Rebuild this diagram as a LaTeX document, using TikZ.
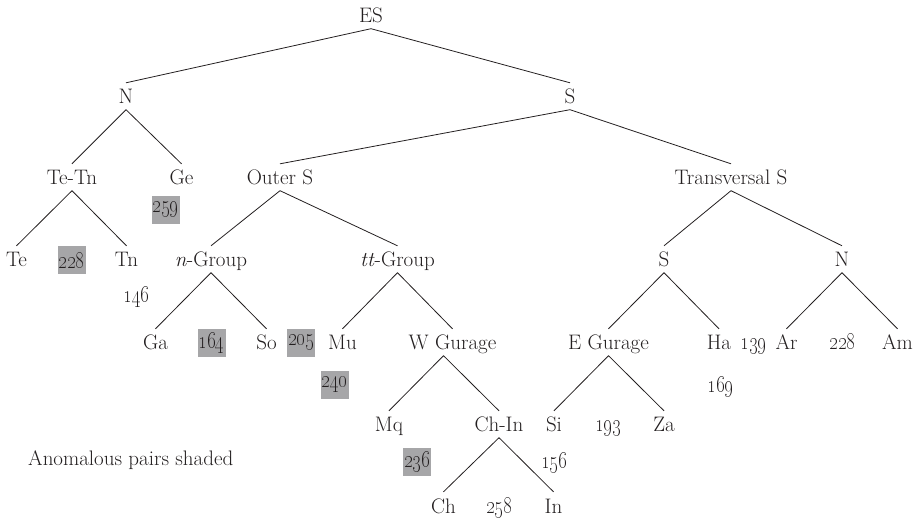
\documentclass[tikz,border=0pt]{standalone}
\usepackage{graphicx}
\usetikzlibrary{positioning}
\definecolor{inkgray}{HTML}{231F20}
\definecolor{shadegray}{HTML}{A6A6A8}
\newcommand{\pairnum}[1]{\scalebox{0.76}[1]{\oldstylenums{#1}}}

\begin{document}
\begin{tikzpicture}[
  x=1pt,
  y=-1pt,
  font=\fontsize{21}{24}\selectfont,
  every node/.style={text=inkgray},
  lbl/.style={
    anchor=base,
    inner sep=0pt,
    text height=21pt,
    text depth=5.5pt
  },
  num/.style={
    anchor=base,
    inner sep=0pt,
    font=\fontsize{23}{26}\selectfont
  },
  shaded/.style={
    fill=shadegray,
    inner sep=0pt,
    minimum width=28pt,
    minimum height=28pt,
    font=\fontsize{23}{26}\selectfont
  },
  branch/.style={
    draw=inkgray,
    line width=0.8pt
  }
]
\useasboundingbox (0,0) rectangle (916,518);

\node[lbl] (es) at (371,23) {ES};

\node[lbl] (n) at (126,104) {N};
\node[lbl] (s) at (570,104) {S};

\node[lbl] (tetn) at (72,185) {Te-Tn};
\node[lbl] (ge) at (181.5,185) {Ge};
\node[lbl] (outer) at (280,185) {Outer S};
\node[lbl] (transv) at (731,185) {Transversal S};

\node[lbl] (te) at (16.5,267) {Te};
\node[lbl] (tn) at (126.5,267) {Tn};
\node[lbl] (ngrp) at (211,267) {\textit{n}-Group};
\node[lbl] (ttgrp) at (397.5,267) {\textit{tt}-Group};
\node[lbl] (tvs) at (664,267) {S};
\node[lbl] (tvn) at (842,267) {N};

\node[lbl] (ga) at (155.5,350) {Ga};
\node[lbl] (so) at (266.5,350) {So};
\node[lbl] (mu) at (342.5,350) {Mu};
\node[lbl] (wgur) at (452.5,350) {W Gurage};
\node[lbl] (egur) at (608.5,350) {E Gurage};
\node[lbl] (ha) at (719,350) {Ha};
\node[lbl] (ar) at (786.5,350) {Ar};
\node[lbl] (am) at (897.5,350) {Am};

\node[lbl] (mq) at (389,432) {Mq};
\node[lbl] (chin) at (499,432) {Ch-In};
\node[lbl] (si) at (554,432) {Si};
\node[lbl] (za) at (664,432) {Za};

\node[lbl] (ch) at (443.5,513) {Ch};
\node[lbl] (ind) at (553.5,513) {In};

\foreach \a/\b in {es/n, es/s, n/tetn, n/ge, s/outer, s/transv,
                   tetn/te, tetn/tn, outer/ngrp, outer/ttgrp,
                   transv/tvs, transv/tvn, ngrp/ga, ngrp/so,
                   ttgrp/mu, ttgrp/wgur, tvs/egur, tvs/ha,
                   tvn/ar, tvn/am, egur/si, egur/za, chin/ch, chin/ind}
  \draw[branch] (\a.south) -- (\b.north);
\draw[branch] ([xshift=-9pt]wgur.south) -- (mq.north);
\draw[branch] ([xshift=-9pt]wgur.south) -- (chin.north);

\node[shaded] (ge259) at (165.5,210) {\pairnum{259}};
\node[shaded] (tetn228) at (71.5,260) {\pairnum{228}};
\node[shaded] (ngrp164) at (211.5,343) {\pairnum{164}};
\node[shaded] (so205) at (301,343) {\pairnum{205}};
\node[shaded] (mu240) at (334.5,385) {\pairnum{240}};
\node[shaded] (mq236) at (417,462) {\pairnum{236}};

\node[num] (tn146) at (136.5,303) {\pairnum{146}};
\node[num] (ha139) at (753.5,350) {\pairnum{139}};
\node[num] (tvn228) at (842.5,350) {\pairnum{228}};
\node[num] (ha169) at (720.5,393) {\pairnum{169}};
\node[num] (egur193) at (608,432) {\pairnum{193}};
\node[num] (chin156) at (554,468) {\pairnum{156}};
\node[num] (chin258) at (499,513) {\pairnum{258}};

\node[anchor=base west,inner sep=0pt] (legend) at (28,465) {Anomalous pairs shaded};

\end{tikzpicture}
\end{document}
